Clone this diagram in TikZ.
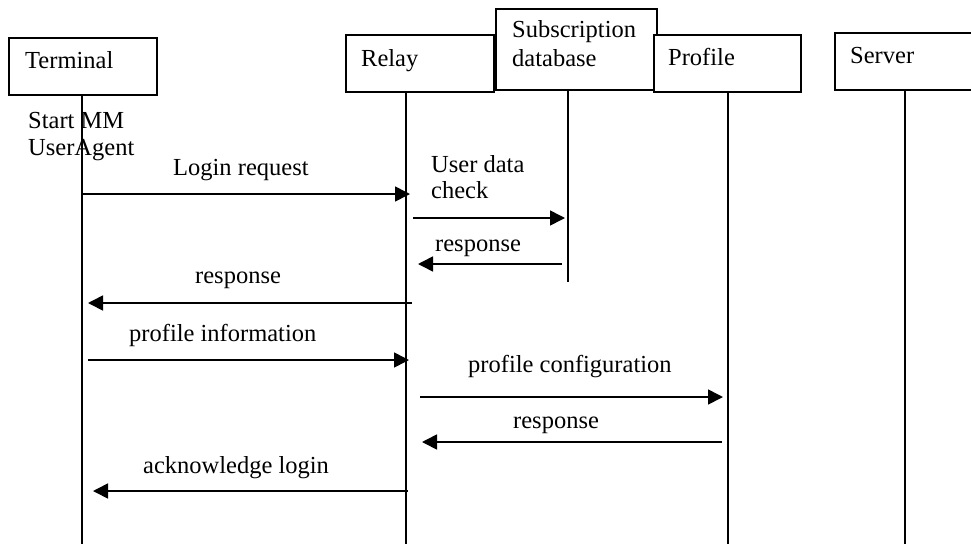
\documentclass[tikz,border=0pt]{standalone}
\usepackage{fontspec}
\setmainfont{Liberation Serif}
\usetikzlibrary{arrows.meta}
\begin{document}
\begin{tikzpicture}[x=1pt,y=-1pt,
  box/.style={draw, fill=white, line width=1.5pt, rectangle, inner sep=0pt, anchor=north west},
  lbl/.style={anchor=base west, inner sep=0pt, font=\fontsize{24.5}{27}\selectfont, align=left},
  life/.style={line width=1.2pt},
  msg/.style={line width=1.6pt, -{Triangle[length=15pt,width=15pt]}}]
\useasboundingbox (0,0) rectangle (971,544);
% lifeline bottoms
\coordinate (tEnd) at (82,544);
\coordinate (rEnd) at (406,544);
\coordinate (sEnd) at (568,282);
\coordinate (pEnd) at (728,544);
\coordinate (vEnd) at (905,544);
% boxes
\node[box, minimum width=148pt, minimum height=57pt] (terminal) at (8,37) {};
\node[box, minimum width=148pt, minimum height=57pt] (relay) at (345,34) {};
\node[box, minimum width=161pt, minimum height=81pt] (subdb) at (495,8) {};
\node[box, minimum width=147pt, minimum height=57pt] (profile) at (653,34) {};
\node[box, minimum width=150pt, minimum height=57pt] (server) at (834,32) {};
% box labels
\node[lbl] (terminalT) at (25,68) {Terminal};
\node[lbl] (relayT) at (361,66) {Relay};
\node[lbl] (subdbT) at (512,66) {Subscription\\[2pt]database};
\node[lbl] (profileT) at (668,65) {Profile};
\node[lbl] (serverT) at (850,63) {Server};
% lifelines
\draw[life] (tEnd |- terminal.south) -- (tEnd);
\draw[life] (rEnd |- relay.south) -- (rEnd);
\draw[life] (sEnd |- subdb.south) -- (sEnd);
\draw[life] (pEnd |- profile.south) -- (pEnd);
\draw[life] (vEnd |- server.south) -- (vEnd);
\node[lbl] (startT) at (28,155) {Start MM\\UserAgent};
% messages
\coordinate (m1a) at (82,194);  \coordinate (m1b) at (410,194);
\coordinate (m2a) at (413,218); \coordinate (m2b) at (565,218);
\coordinate (m3a) at (562,264); \coordinate (m3b) at (418,264);
\coordinate (m4a) at (412,303); \coordinate (m4b) at (88,303);
\coordinate (m5a) at (88,360);  \coordinate (m5b) at (409,360);
\coordinate (m6a) at (420,397); \coordinate (m6b) at (723,397);
\coordinate (m7a) at (722,442); \coordinate (m7b) at (422,442);
\coordinate (m8a) at (408,491); \coordinate (m8b) at (93,491);
\draw[msg] (m1a) -- (m1b);
\draw[msg] (m2a) -- (m2b);
\draw[msg] (m3a) -- (m3b);
\draw[msg] (m4a) -- (m4b);
\draw[msg] (m5a) -- (m5b);
\draw[msg] (m6a) -- (m6b);
\draw[msg] (m7a) -- (m7b);
\draw[msg] (m8a) -- (m8b);
\node[lbl] (m1T) at (173,175) {Login request};
\node[lbl] (m2T) at (431,198) {User data\\[-1pt]check};
\node[lbl] (m3T) at (435,251) {response};
\node[lbl] (m4T) at (195,283) {response};
\node[lbl] (m5T) at (129,341) {profile information};
\node[lbl] (m6T) at (468,372) {profile configuration};
\node[lbl] (m7T) at (513,428) {response};
\node[lbl] (m8T) at (143,473) {acknowledge login};
\end{tikzpicture}
\end{document}
